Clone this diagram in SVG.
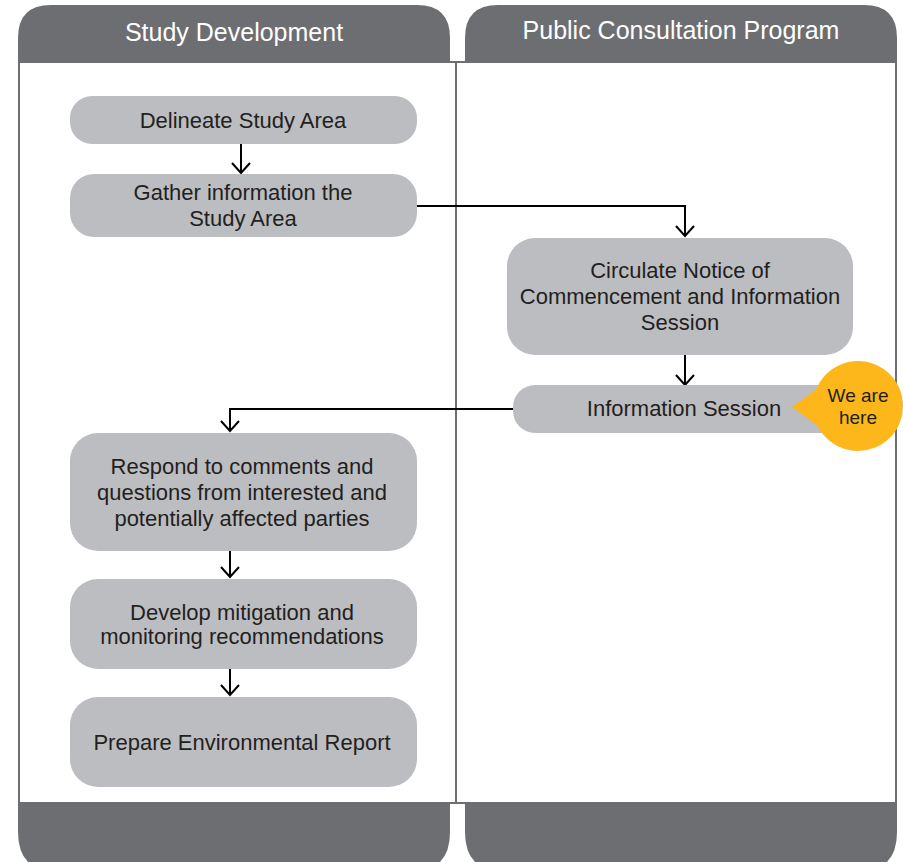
<svg xmlns="http://www.w3.org/2000/svg" width="903" height="862" viewBox="0 0 903 862">
<defs>
<style>
.band{fill:#6d6e71}
.frame{fill:none;stroke:#6d6e71;stroke-width:2}
.node{fill:#bcbdc0}
.t{font-family:"Liberation Sans",Arial,sans-serif;font-size:22px;fill:#231f20;text-anchor:middle}
.h{font-family:"Liberation Sans",Arial,sans-serif;font-size:25px;fill:#ffffff;text-anchor:middle}
.c{font-family:"Liberation Sans",Arial,sans-serif;font-size:19px;fill:#231f20;text-anchor:middle}
.conn{fill:none;stroke:#000;stroke-width:2;marker-end:url(#arr)}
</style>
<marker id="arr" markerUnits="userSpaceOnUse" viewBox="-12 -11 14 22" markerWidth="14" markerHeight="22" refX="0" refY="0" orient="auto" overflow="visible">
<path d="M-10,-9 L0,0 L-10,9" fill="none" stroke="#000" stroke-width="2"/>
</marker>
</defs>
<rect width="903" height="862" fill="#fff"/>
<g id="lanes">
<path class="band" d="M18,62 V38 Q18,5 51,5 H417 Q450,5 450,38 V62 Z"/>
<path class="band" d="M465,62 V38 Q465,5 498,5 H864 Q897,5 897,38 V62 Z"/>
<path class="band" d="M18,803 V832 Q18,872 58,872 H410 Q450,872 450,832 V803 Z"/>
<path class="band" d="M465,803 V832 Q465,872 505,872 H857 Q897,872 897,832 V803 Z"/>
<rect class="frame" x="19" y="62" width="877" height="741"/>
<line class="frame" x1="456" y1="62" x2="456" y2="803"/>
<text class="h" x="234" y="41">Study Development</text>
<text class="h" x="681" y="39">Public Consultation Program</text>
</g>
<g id="connectors">
<path class="conn" d="M241,144 V173"/>
<path class="conn" d="M417,206 H685 V236"/>
<path class="conn" d="M685,355 V385"/>
<path class="conn" d="M519,409 H230 V431"/>
<path class="conn" d="M230,551 V577"/>
<path class="conn" d="M230,669 V695"/>
</g>
<g id="n1">
<rect class="node" x="70" y="96" width="347" height="48" rx="22"/>
<text class="t" x="243" y="128">Delineate Study Area</text>
</g>
<g id="n2">
<rect class="node" x="70" y="174" width="347" height="63" rx="24"/>
<text class="t" x="243" y="200">Gather information the</text>
<text class="t" x="243" y="226">Study Area</text>
</g>
<g id="n3">
<rect class="node" x="507" y="238" width="346" height="117" rx="28"/>
<text class="t" x="680" y="278">Circulate Notice of</text>
<text class="t" x="680" y="304">Commencement and Information</text>
<text class="t" x="680" y="330">Session</text>
</g>
<g id="n4">
<rect class="node" x="513" y="385" width="345" height="48" rx="22"/>
<text class="t" x="684" y="416">Information Session</text>
</g>
<g id="n5">
<rect class="node" x="70" y="433" width="347" height="118" rx="28"/>
<text class="t" x="242" y="474">Respond to comments and</text>
<text class="t" x="242" y="500">questions from interested and</text>
<text class="t" x="242" y="526">potentially affected parties</text>
</g>
<g id="n6">
<rect class="node" x="70" y="579" width="347" height="90" rx="28"/>
<text class="t" x="242" y="620">Develop mitigation and</text>
<text class="t" x="242" y="644">monitoring recommendations</text>
</g>
<g id="n7">
<rect class="node" x="70" y="697" width="347" height="90" rx="28"/>
<text class="t" x="242" y="750">Prepare Environmental Report</text>
</g>
<g id="callout">
<path d="M792,407 L832,378 L832,436 Z" fill="#fdb71a"/>
<circle cx="858" cy="406" r="45" fill="#fdb71a"/>
<text class="c" x="858" y="402">We are</text>
<text class="c" x="858" y="424">here</text>
</g>
</svg>
